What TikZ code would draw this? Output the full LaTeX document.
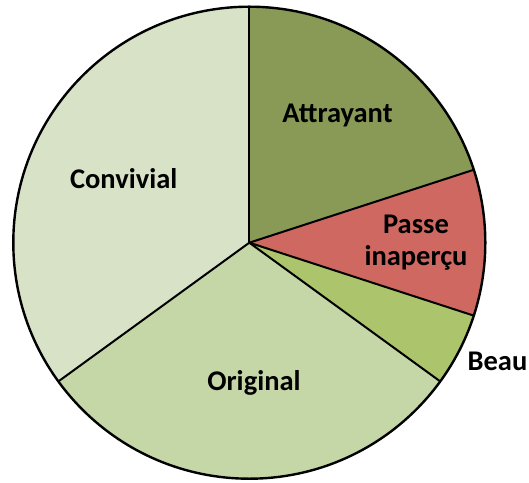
\documentclass[tikz,border=0pt]{standalone}
\usepackage{fontspec}
\setmainfont{Carlito}
\definecolor{attrayant}{RGB}{137,154,86}
\definecolor{passe}{RGB}{207,104,97}
\definecolor{beau}{RGB}{172,196,108}
\definecolor{original}{RGB}{197,214,167}
\definecolor{convivial}{RGB}{216,226,199}
\tikzset{
  slicelabel/.style={font=\fontsize{28.5}{32}\selectfont\bfseries, text=black, inner sep=0pt},
  sliceedge/.style={draw=black, line width=2pt, line join=round},
}
\newcommand{\pieslice}[3]{% colour, start angle, end angle
  \fill[#1] (ctr) -- ++(#2:236) arc[start angle=#2, end angle=#3, radius=236] -- cycle;
}
\begin{document}
\begin{tikzpicture}[x=1pt,y=1pt]
  \useasboundingbox (0,0) rectangle (529,482);
  \coordinate (ctr) at (249.3,239.3);
  % slices, clockwise from the top
  \pieslice{attrayant}{90}{18}
  \pieslice{passe}{18}{-18}
  \pieslice{beau}{-18}{-36}
  \pieslice{original}{-36}{-144}
  \pieslice{convivial}{-144}{-270}
  % radial borders
  \foreach \a in {90,18,-18,-36,-144}
    \draw[sliceedge] (ctr) -- ++(\a:236);
  % rim
  \draw[sliceedge, line width=2.4pt] (ctr) circle[radius=236];
  % labels
  \node[slicelabel, anchor=base] (lAttrayant) at (337.5,359.7) {Attrayant};
  \node[slicelabel, anchor=base] (lConvivial) at (123.7,293) {Convivial};
  \node[slicelabel, align=center] (lPasse) at (416,239) {Passe\\inaperçu};
  \node[slicelabel, anchor=base] (lOriginal) at (254,92) {Original};
  \node[slicelabel, anchor=base] (lBeau) at (497.5,112) {Beau};
\end{tikzpicture}
\end{document}
